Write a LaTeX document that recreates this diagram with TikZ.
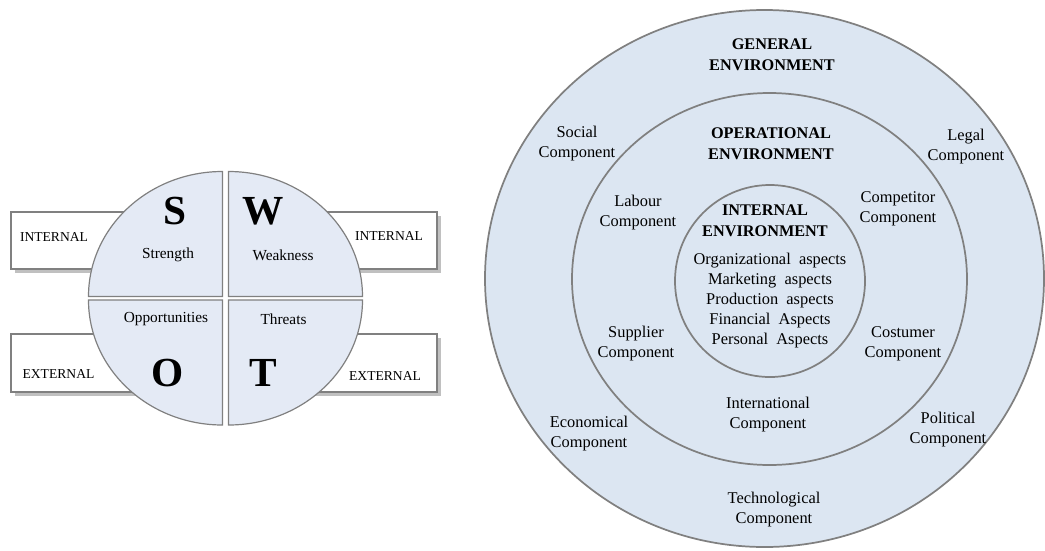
\documentclass[tikz,border=0pt]{standalone}
\usepackage{fontspec}
\setmainfont{Liberation Serif}
\usepackage{tikz}

\definecolor{envfill}{RGB}{220,230,242}
\definecolor{swotfill}{RGB}{228,234,245}
\definecolor{edgegray}{RGB}{128,128,128}
\definecolor{shadowgray}{RGB}{192,192,192}

\begin{document}
\begin{tikzpicture}[x=0.75pt,y=0.75pt,yscale=-1,xscale=1,
  comp/.style={inner sep=0.75pt, align=center, font=\fontsize{12.3}{15}\selectfont},
  envhead/.style={inner sep=0.75pt, align=center, font=\fontsize{12.2}{15.5}\selectfont\bfseries},
  swotletter/.style={inner sep=0.75pt, font=\fontsize{31}{31}\selectfont\bfseries},
  swotlabel/.style={inner sep=0.75pt, font=\fontsize{11.5}{14}\selectfont},
  sidelabel/.style={inner sep=0.75pt, font=\fontsize{10.2}{12}\selectfont}]
\useasboundingbox (0,0) rectangle (1045,550);

%Shape: Rectangle (shadows)
\fill [shadowgray] (15,216) rectangle (154,273) ;
\fill [shadowgray] (15,338) rectangle (154,396) ;
\fill [shadowgray] (304,216) rectangle (441,273) ;
\fill [shadowgray] (304,338) rectangle (441,396) ;
%Shape: Rectangle
\draw [edgegray, line width=1.2pt, fill=white] (11,212) rectangle (150,269) ;
\draw [edgegray, line width=1.2pt, fill=white] (11,334) rectangle (150,392) ;
\draw [edgegray, line width=1.2pt, fill=white] (300,212) rectangle (437,269) ;
\draw [edgegray, line width=1.2pt, fill=white] (300,334) rectangle (437,392) ;

%Shape: Quarter Ellipse (S)
\draw [edgegray, line width=0.9pt, fill=swotfill] (222.5,296.5) -- (88.5,296.5) .. controls (88.5,227.5) and (148.5,171.5) .. (222.5,171.5) -- cycle ;
%Shape: Quarter Ellipse (W)
\draw [edgegray, line width=0.9pt, fill=swotfill] (228.5,296.5) -- (228.5,171.5) .. controls (302.5,171.5) and (362.5,227.5) .. (362.5,296.5) -- cycle ;
%Shape: Quarter Ellipse (O)
\draw [edgegray, line width=0.9pt, fill=swotfill] (222.5,300) -- (222.5,425) .. controls (148.5,425) and (88.5,369) .. (88.5,300) -- cycle ;
%Shape: Quarter Ellipse (T)
\draw [edgegray, line width=0.9pt, fill=swotfill] (228.5,300) -- (362.5,300) .. controls (362.5,369) and (302.5,425) .. (228.5,425) -- cycle ;

% Text Node
\draw (54,237) node (intl) [sidelabel] {INTERNAL};
% Text Node
\draw (58.5,374) node (extl) [sidelabel] {EXTERNAL};
% Text Node
\draw (389,236) node (intr) [sidelabel] {INTERNAL};
% Text Node
\draw (385,376) node (extr) [sidelabel] {EXTERNAL};
% Text Node
\draw (175,211) node (lets) [swotletter] {S};
% Text Node
\draw (263,211) node (letw) [swotletter] {W};
% Text Node
\draw (168,373) node (leto) [swotletter] {O};
% Text Node
\draw (263.5,373) node (lett) [swotletter] {T};
% Text Node
\draw (168,255) node (strength) [swotlabel] {Strength};
% Text Node
\draw (283,255) node (weakness) [swotlabel] {Weakness};
% Text Node
\draw (166,319) node (opport) [swotlabel] {Opportunities};
% Text Node
\draw (283.5,319) node (threats) [swotlabel] {Threats};

%Shape: Ellipse (general)
\draw [edgegray, line width=1.3pt, fill=envfill] (485,278.5) .. controls (485,130.21) and (610.13,10) .. (764.5,10) .. controls (918.87,10) and (1044,130.21) .. (1044,278.5) .. controls (1044,426.79) and (918.87,547) .. (764.5,547) .. controls (610.13,547) and (485,426.79) .. (485,278.5) -- cycle ;
%Shape: Ellipse (operational)
\draw [edgegray, line width=1.3pt, fill=envfill] (572,279) .. controls (572,176.27) and (660.42,93) .. (769.5,93) .. controls (878.58,93) and (967,176.27) .. (967,279) .. controls (967,381.73) and (878.58,465) .. (769.5,465) .. controls (660.42,465) and (572,381.73) .. (572,279) -- cycle ;
%Shape: Circle (internal)
\draw [edgegray, line width=1.3pt, fill=envfill] (675,281) .. controls (675,227.98) and (717.53,185) .. (770,185) .. controls (822.47,185) and (865,227.98) .. (865,281) .. controls (865,334.02) and (822.47,377) .. (770,377) .. controls (717.53,377) and (675,334.02) .. (675,281) -- cycle ;

% Text Node
\draw (772,55) node (general) [envhead] {GENERAL\\ENVIRONMENT};
% Text Node
\draw (771,144) node (operational) [envhead] {OPERATIONAL\\ENVIRONMENT};
% Text Node
\draw (765,221) node (internal) [envhead] {INTERNAL\\ENVIRONMENT};
% Text Node
\draw (770,300.7) node (aspects) [comp] {Organizational\enspace aspects\\Marketing\enspace aspects\\Production\enspace aspects\\Financial\enspace Aspects\\Personal\enspace Aspects};
% Text Node
\draw (577,143.3) node (social) [comp] {Social\\Component};
% Text Node
\draw (966,147) node (legal) [comp] {Legal\\Component};
% Text Node
\draw (638,212.7) node (labour) [comp] {Labour\\Component};
% Text Node
\draw (898,209) node (competitor) [comp] {Competitor\\Component};
% Text Node
\draw (636,344) node (supplier) [comp] {Supplier\\Component};
% Text Node
\draw (903,344) node (costumer) [comp] {Costumer\\Component};
% Text Node
\draw (768,415) node (international) [comp] {International\\Component};
% Text Node
\draw (589,433.7) node (economical) [comp] {Economical\\Component};
% Text Node
\draw (948,429.3) node (political) [comp] {Political\\Component};
% Text Node
\draw (774,510) node (technological) [comp] {Technological\\Component};

\end{tikzpicture}
\end{document}
